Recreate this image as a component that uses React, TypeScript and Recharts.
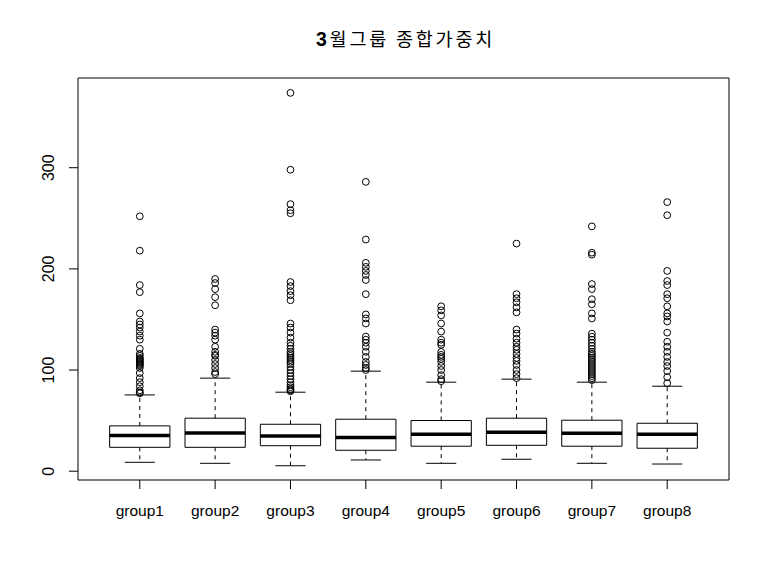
import React from "react";
import {
  ComposedChart,
  XAxis,
  YAxis,
  Scatter,
  ReferenceArea,
  ReferenceLine,
} from "recharts";

const groups = ["group1", "group2", "group3", "group4", "group5", "group6", "group7", "group8"];
const yTicks = [0, 100, 200, 300];

// box stats per group
const lowerWhisker = [8.8, 7.8, 5.4, 11.1, 7.8, 11.8, 7.8, 7.1];
const q1 = [23.6, 23.6, 25.2, 20.7, 24.7, 25.6, 24.7, 22.7];
const median = [35.2, 37.8, 34.9, 33.2, 36.5, 38.5, 37.5, 36.5];
const q3 = [44.8, 52.4, 46.4, 51.4, 50.1, 52.4, 50.4, 47.4];
const upperWhisker = [75.4, 92, 78.1, 98.9, 88, 91, 88, 84];

// outliers
const out1 = [252, 218, 184, 177, 156, 148, 145, 142, 138, 134, 130, 121, 116, 114, 112, 111, 110, 109, 108, 107, 106, 105, 104, 102, 97, 92, 88, 84, 80, 78, 77];
const out2 = [190, 186, 180, 172, 164, 140, 137, 134, 130, 123, 118, 115, 114, 110, 106, 102, 98, 96];
const out3 = [374, 298, 264, 258, 255, 187, 183, 178, 174, 169, 146, 142, 137, 132, 127, 124, 121, 118, 116, 114, 112, 110, 108, 106, 103, 100, 97, 94, 91, 88, 85, 83, 81, 80, 79];
const out4 = [286, 229, 206, 202, 198, 194, 189, 175, 155, 151, 146, 133, 130, 127, 123, 118, 113, 108, 105, 102, 100];
const out5 = [163, 159, 154, 146, 138, 130, 127, 125, 118, 115, 113, 111, 108, 104, 100, 95, 91, 89];
const out6 = [225, 175, 171, 167, 162, 157, 140, 136, 131, 127, 123, 120, 116, 112, 109, 105, 100, 96, 92];
const out7 = [242, 216, 214, 185, 180, 170, 165, 156, 151, 136, 133, 130, 127, 124, 121, 118, 116, 114, 112, 110, 108, 106, 104, 102, 100, 98, 96, 94, 92, 90];
const out8 = [266, 253, 198, 188, 184, 175, 171, 163, 156, 153, 148, 137, 128, 123, 118, 113, 108, 104, 99, 93, 87];

const outliers = [out1, out2, out3, out4, out5, out6, out7, out8];
const points = outliers.flatMap((vals, i) => vals.map((v) => ({ x: i + 1, y: v })));

const X_DOMAIN = [0.18, 8.82];
const Y_DOMAIN = [-8.7, 388.7];
const FONT = "'Liberation Sans', Arial, sans-serif";

const YTick = (props: any) => {
  const { x, y, payload } = props;
  const tx = x - 15;
  return (
    <text
      x={tx}
      y={y}
      transform={`rotate(-90, ${tx}, ${y})`}
      textAnchor="middle"
      fontSize={16}
      fontFamily={FONT}
      fill="#000"
    >
      {payload.value}
    </text>
  );
};

const XTick = (props: any) => {
  const { x, y, payload } = props;
  return (
    <text x={x} y={y + 25} textAnchor="middle" fontSize={15.5} fontFamily={FONT} fill="#000">
      {groups[payload.value - 1]}
    </text>
  );
};

const Circle = (props: any) => {
  const { cx, cy } = props;
  return <circle cx={cx} cy={cy} r={3.4} fill="none" stroke="#000" strokeWidth={1} />;
};

export default function App() {
  const ids = groups.map((_, i) => i + 1);
  return (
    <div style={{ position: "absolute", left: 0, top: 0, width: 770, height: 578, background: "#fff" }}>
      <div
        style={{
          position: "absolute",
          left: 80,
          width: 651,
          top: 26,
          textAlign: "center",
          fontFamily: "'Noto Sans CJK KR', sans-serif",
          fontSize: 18.5,
          letterSpacing: "2.8px",
          lineHeight: "24px",
          color: "#000",
        }}
      >
        <b style={{ fontFamily: FONT, fontSize: 19.5 }}>3</b>월그룹 종합가중치
      </div>
      <ComposedChart width={770} height={578} margin={{ top: 78, right: 41, bottom: 58, left: 38 }}>
        <XAxis
          type="number"
          dataKey="x"
          domain={X_DOMAIN}
          ticks={ids}
          allowDataOverflow
          axisLine={false}
          tickSize={9}
          tickLine={{ stroke: "#000" }}
          tick={<XTick />}
          height={40}
          interval={0}
        />
        <YAxis
          type="number"
          dataKey="y"
          domain={Y_DOMAIN}
          ticks={yTicks}
          allowDataOverflow
          axisLine={false}
          tickSize={9}
          tickMargin={0}
          tickLine={{ stroke: "#000" }}
          tick={<YTick />}
          width={40}
          interval={0}
        />
        <ReferenceArea
          x1={X_DOMAIN[0]}
          x2={X_DOMAIN[1]}
          y1={Y_DOMAIN[0]}
          y2={Y_DOMAIN[1]}
          fill="none"
          fillOpacity={0}
          stroke="#000"
          strokeWidth={1}
        />
        {ids.map((g, i) => (
          <ReferenceLine
            key={`wu${g}`}
            segment={[{ x: g, y: q3[i] }, { x: g, y: upperWhisker[i] }]}
            stroke="#000"
            strokeDasharray="4 4"
          />
        ))}
        {ids.map((g, i) => (
          <ReferenceLine
            key={`wl${g}`}
            segment={[{ x: g, y: q1[i] }, { x: g, y: lowerWhisker[i] }]}
            stroke="#000"
            strokeDasharray="4 4"
          />
        ))}
        {ids.map((g, i) => (
          <ReferenceLine
            key={`cu${g}`}
            segment={[{ x: g - 0.2, y: upperWhisker[i] }, { x: g + 0.2, y: upperWhisker[i] }]}
            stroke="#000"
          />
        ))}
        {ids.map((g, i) => (
          <ReferenceLine
            key={`cl${g}`}
            segment={[{ x: g - 0.2, y: lowerWhisker[i] }, { x: g + 0.2, y: lowerWhisker[i] }]}
            stroke="#000"
          />
        ))}
        {ids.map((g, i) => (
          <ReferenceArea
            key={`b${g}`}
            x1={g - 0.4}
            x2={g + 0.4}
            y1={q1[i]}
            y2={q3[i]}
            fill="#fff"
            fillOpacity={1}
            stroke="#000"
            strokeWidth={1}
          />
        ))}
        {ids.map((g, i) => (
          <ReferenceLine
            key={`m${g}`}
            segment={[{ x: g - 0.4, y: median[i] }, { x: g + 0.4, y: median[i] }]}
            stroke="#000"
            strokeWidth={3.5}
          />
        ))}
        <Scatter data={points} shape={<Circle />} isAnimationActive={false} />
      </ComposedChart>
    </div>
  );
}
